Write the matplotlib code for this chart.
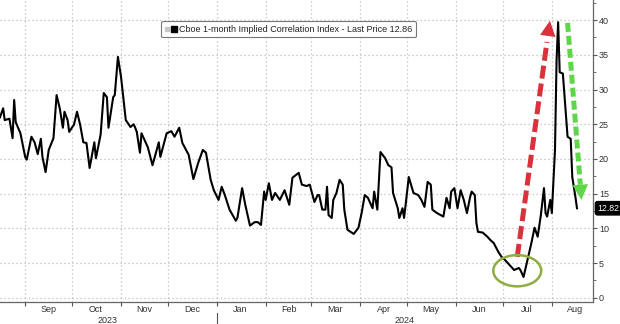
import pandas as pd
import matplotlib
matplotlib.use("Agg")
import matplotlib.pyplot as plt
import matplotlib.dates as mdates
from matplotlib.lines import Line2D
from matplotlib.legend_handler import HandlerTuple
from matplotlib.patches import Ellipse

plt.rcParams["font.family"] = ["Liberation Sans", "DejaVu Sans"]

# ---------------------------------------------------------
# Data
# ---------------------------------------------------------
dates = [
    "2023-08-16", "2023-08-18", "2023-08-19", "2023-08-22", "2023-08-24", "2023-08-25", "2023-08-26", "2023-08-29",
    "2023-09-01", "2023-09-02", "2023-09-05", "2023-09-07", "2023-09-09", "2023-09-11", "2023-09-12", "2023-09-14",
    "2023-09-16", "2023-09-19", "2023-09-21", "2023-09-23", "2023-09-25", "2023-09-26", "2023-09-28", "2023-09-29",
    "2023-10-01", "2023-10-02", "2023-10-04", "2023-10-06", "2023-10-08", "2023-10-10", "2023-10-12", "2023-10-15",
    "2023-10-16", "2023-10-19", "2023-10-21", "2023-10-23", "2023-10-24", "2023-10-27", "2023-10-28", "2023-10-30",
    "2023-11-01", "2023-11-04", "2023-11-07", "2023-11-09", "2023-11-10", "2023-11-11", "2023-11-13", "2023-11-14",
    "2023-11-18", "2023-11-21", "2023-11-25", "2023-11-26", "2023-11-30",
    "2023-12-03", "2023-12-05", "2023-12-08", "2023-12-10", "2023-12-14", "2023-12-17", "2023-12-20", "2023-12-23",
    "2023-12-25", "2023-12-28", "2023-12-30",
    "2024-01-02", "2024-01-04", "2024-01-06", "2024-01-09", "2024-01-13", "2024-01-14", "2024-01-17", "2024-01-19",
    "2024-01-22", "2024-01-25", "2024-01-27", "2024-01-29", "2024-01-31",
    "2024-02-01", "2024-02-03", "2024-02-05", "2024-02-07", "2024-02-10", "2024-02-13", "2024-02-16", "2024-02-18",
    "2024-02-22", "2024-02-24", "2024-02-27", "2024-02-29",
    "2024-03-03", "2024-03-05", "2024-03-06", "2024-03-08", "2024-03-10", "2024-03-11", "2024-03-12", "2024-03-14",
    "2024-03-15", "2024-03-17", "2024-03-19", "2024-03-21", "2024-03-22", "2024-03-24", "2024-03-28", "2024-03-31",
    "2024-04-02", "2024-04-04", "2024-04-06", "2024-04-09", "2024-04-10", "2024-04-12", "2024-04-14", "2024-04-17",
    "2024-04-19", "2024-04-21", "2024-04-22", "2024-04-25", "2024-04-26", "2024-04-28", "2024-04-29", "2024-04-30",
    "2024-05-02", "2024-05-05", "2024-05-08", "2024-05-10", "2024-05-12", "2024-05-14", "2024-05-16", "2024-05-17",
    "2024-05-20", "2024-05-24", "2024-05-26", "2024-05-28", "2024-05-29", "2024-05-31",
    "2024-06-02", "2024-06-04", "2024-06-06", "2024-06-08", "2024-06-10", "2024-06-11", "2024-06-13", "2024-06-14",
    "2024-06-15", "2024-06-18", "2024-06-21", "2024-06-23", "2024-06-25", "2024-06-28", "2024-06-30",
    "2024-07-02", "2024-07-04", "2024-07-06", "2024-07-08", "2024-07-11", "2024-07-12", "2024-07-14", "2024-07-17",
    "2024-07-19", "2024-07-21", "2024-07-23", "2024-07-25", "2024-07-27", "2024-07-28", "2024-07-29", "2024-07-31",
    "2024-08-01", "2024-08-03", "2024-08-04", "2024-08-05", "2024-08-06", "2024-08-08", "2024-08-11", "2024-08-13",
    "2024-08-14", "2024-08-16", "2024-08-17",
]
values = [
    26.0, 27.3, 25.6, 25.8, 23.0, 28.5, 25.3, 23.7,
    20.3, 19.9, 23.2, 22.4, 20.7, 22.9, 20.3, 18.1,
    21.3, 23.0, 29.2, 27.3, 24.5, 26.8, 25.6, 23.9,
    24.6, 24.9, 26.8, 24.9, 22.4, 22.3, 18.7, 22.4,
    20.1, 23.5, 29.5, 28.9, 24.5, 28.9, 29.2, 34.7,
    31.8, 25.6, 24.6, 25.0, 24.5, 23.9, 20.9, 23.7,
    21.7, 19.1, 22.4, 20.3, 23.7,
    24.0, 23.2, 24.5, 22.3, 20.6, 17.1, 19.4, 21.3,
    20.9, 17.0, 15.5,
    14.1, 16.0, 14.8, 12.7, 11.1, 11.5, 15.8, 13.4,
    10.4, 10.9, 10.9, 10.5, 15.3,
    14.1, 16.5, 14.1, 15.1, 14.1, 15.5, 13.4, 17.3,
    18.0, 16.3, 16.1, 16.3,
    13.8, 14.8, 14.8, 12.7, 12.7, 16.0, 11.9, 11.5,
    14.1, 15.1, 17.0, 16.3, 12.7, 9.8, 9.2, 10.1,
    12.2, 14.8, 14.4, 12.9, 15.3, 12.7, 21.0, 20.1,
    19.1, 18.8, 15.1, 12.9, 11.5, 12.9, 11.5, 13.4,
    17.4, 15.1, 14.8, 14.1, 13.1, 16.7, 16.3, 12.7,
    12.2, 11.7, 14.4, 12.9, 15.3, 15.8,
    12.9, 15.5, 14.1, 12.2, 14.5, 15.3, 14.8, 10.8,
    9.5, 9.4, 8.8, 8.3, 7.9, 6.6, 5.9,
    5.5, 5.0, 4.5, 4.0, 4.3, 4.0, 3.0, 5.9,
    7.9, 10.1, 8.8, 11.9, 15.8, 12.2, 11.7, 14.1,
    12.2, 21.3, 34.2, 39.7, 32.5, 32.3, 23.2, 22.9,
    17.4, 14.5, 12.9,
]

legend_label = "Cboe 1-month Implied Correlation Index - Last Price 12.86"
last_label = "12.82"
month_label_start = "2023-09-01"
year_labels = [("2023", "2023-08-16", "2023-12-31"), ("2024", "2024-01-01", "2024-08-27")]

# annotations (start, tip)
red_arrow = [("2024-07-10", 5.9), ("2024-07-31", 40.3)]
green_arrow = [("2024-08-11", 39.6), ("2024-08-20", 13.7)]
circle_center = ("2024-07-10", 3.9)
circle_size = (30.5, 4.5)  # days, index points

# ---------------------------------------------------------
# Figure
# ---------------------------------------------------------
fig = plt.figure(figsize=(6.2, 3.24), dpi=100)
ax = fig.add_axes([0.0, 0.068, 0.956, 0.932])

x = pd.to_datetime(dates)
ax.plot(x, values, color="black", lw=1.5, zorder=3)

ax.set_xlim(pd.Timestamp("2023-08-16"), pd.Timestamp("2024-08-27"))
ax.set_ylim(-0.6, 42.9)

# axes styling
for s in ["top", "left"]:
    ax.spines[s].set_visible(False)
for s in ["right", "bottom"]:
    ax.spines[s].set_color("#666666")
    ax.spines[s].set_linewidth(0.9)

ax.yaxis.tick_right()
ax.set_yticks(range(0, 41, 5))
ax.yaxis.set_minor_locator(plt.MultipleLocator(2.5))
ax.tick_params(axis="y", which="major", length=3, width=0.8, color="#555555",
               labelsize=6.5, labelcolor="#333333", pad=1.5)
ax.tick_params(axis="y", which="minor", length=2, width=0.6, color="#555555")

first_month = mdates.date2num(pd.Timestamp(month_label_start))


def month_fmt(v, pos=None):
    if v < first_month:
        return ""
    return mdates.num2date(v).strftime("%b")


ax.xaxis.set_major_locator(mdates.MonthLocator())
ax.xaxis.set_major_formatter(plt.NullFormatter())
ax.xaxis.set_minor_locator(mdates.MonthLocator(bymonthday=16))
ax.xaxis.set_minor_formatter(plt.FuncFormatter(month_fmt))
ax.tick_params(axis="x", which="major", length=3, width=0.8, color="#555555")
ax.tick_params(axis="x", which="minor", length=0, labelsize=6.5, labelcolor="#333333", pad=2)

ax.grid(True, which="major", color="#bdbdbd", lw=0.9, linestyle=(0, (1, 2.2)))
ax.set_axisbelow(True)

# year labels + separator
for label, start, end in year_labels:
    mid = pd.Timestamp(start) + (pd.Timestamp(end) - pd.Timestamp(start)) / 2
    ax.text(mid, -0.062, label, transform=ax.get_xaxis_transform(), ha="center", va="center",
            fontsize=6.5, color="#333333")
sep = pd.Timestamp(year_labels[1][1])
ax.plot([sep, sep], [-0.036, -0.075], transform=ax.get_xaxis_transform(), color="#555555",
        lw=0.8, clip_on=False)

# legend
h = (Line2D([], [], marker="s", ls="", color="#c8c8c8", markersize=3),
     Line2D([], [], marker="s", ls="", color="black", markersize=5))
leg = ax.legend([h], [legend_label], handler_map={tuple: HandlerTuple(ndivide=None, pad=0.2)},
                loc="upper left", bbox_to_anchor=(0.272, 0.93), fontsize=6.5, frameon=True,
                fancybox=True, handlelength=1.3, handletextpad=0.3, borderpad=0.4,
                borderaxespad=0)
leg.get_frame().set_edgecolor("#777777")
leg.get_frame().set_linewidth(0.8)
leg.get_frame().set_alpha(1)
for t in leg.get_texts():
    t.set_color("#222222")

# last value tag
ax.annotate(last_label, xy=(1.0, values[-1]), xycoords=("axes fraction", "data"),
            xytext=(3.5, 0), textcoords="offset points", ha="left", va="center",
            fontsize=6.3, color="white", annotation_clip=False,
            bbox=dict(boxstyle="round,pad=0.25", fc="black", ec="black"))


def dashed_arrow(pts, color, dashes):
    (d0, v0), (d1, v1) = pts
    x0, x1 = mdates.date2num(pd.Timestamp(d0)), mdates.date2num(pd.Timestamp(d1))
    f = 0.9
    ax.plot([x0, x0 + (x1 - x0) * f], [v0, v0 + (v1 - v0) * f], color=color, lw=3.6,
            dashes=dashes, solid_capstyle="butt", dash_capstyle="butt", zorder=4)
    ax.annotate("", xy=(x1, v1), xytext=(x0, v0),
                arrowprops=dict(arrowstyle="-|>,head_length=0.55,head_width=0.28",
                                mutation_scale=20, lw=0, color=color), zorder=5)


dashed_arrow(red_arrow, "#d8323c", (2.6, 1.0))
dashed_arrow(green_arrow, "#5fd649", (1.8, 0.8))

ell = Ellipse((mdates.date2num(pd.Timestamp(circle_center[0])), circle_center[1]),
              width=circle_size[0], height=circle_size[1], fill=False,
              edgecolor="#8fae42", lw=1.8, zorder=4)
ax.add_patch(ell)

fig.savefig("out.png", dpi=100)
